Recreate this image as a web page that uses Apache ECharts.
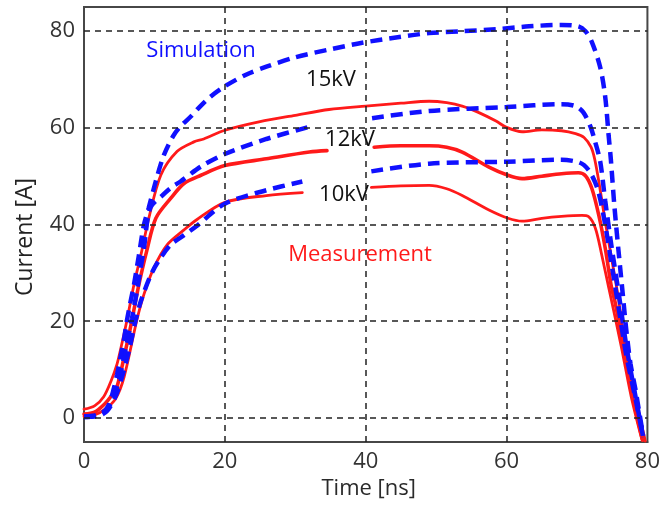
<!DOCTYPE html>
<html>
<head>
<meta charset="utf-8">
<script src="https://cdn.jsdelivr.net/npm/echarts@6/dist/echarts.min.js"></script>
<style>
html,body{margin:0;padding:0;background:#fff;}
#chart{width:663px;height:505px;}
</style>
</head>
<body>
<div id="chart"></div>
<script>
// ---- data (time in ns, current in A); null = gap in the curve ----
const xTicks = [0, 20, 40, 60, 80];
const yTicks = [0, 20, 40, 60, 80];
const xGrid = [20, 40, 60];
const yGrid = [0, 20, 40, 60, 80];

const meas15Time = [0, 1.5, 2.8, 3.8, 4.7, 5.4, 6.1, 7.1, 8.2, 9.2, 10.9, 13.2, 15.6, 17, 20, 25, 30, 34.8, 40, 45, 49, 51.5, 53.7, 56, 58.5, 60, 62.2, 65, 67.8, 69.8, 71, 72, 72.5, 73.1, 74, 74.9, 75.8, 76.9, 78.3, 79.7];
const meas15Value = [1.8, 2.5, 4.4, 7.5, 11.2, 15.5, 20.2, 27.6, 34.5, 41.3, 50.2, 55.1, 57.1, 57.7, 59.5, 61.3, 62.6, 63.8, 64.5, 65.1, 65.5, 65.2, 64.5, 63.2, 61.4, 60.1, 59.2, 59.6, 59.4, 58.8, 58, 56, 53.6, 48.9, 40.7, 33.1, 25.5, 14.7, 4.4, -4.8];

const meas12Time = [0, 1.5, 3, 4, 4.7, 6.1, 6.8, 7.8, 8.9, 10.2, 12.3, 14.2, 16.6, 20, 25.9, 32, 34.5, null, 41.2, 45, 49, 51.5, 53.7, 57.5, 60.2, 62.2, 65, 67.8, 70.2, 71.2, 72.1, 73.1, 74, 74.9, 75.4, 76.5, 77.8, 79.3];
const meas12Value = [0.8, 1.2, 3, 4.8, 6.5, 15.3, 20.2, 27.6, 34.5, 41.3, 45.4, 48.5, 50.2, 52.2, 53.6, 55, 55.3, null, 56, 56.3, 56.3, 56, 55, 51.9, 50.2, 49.5, 50, 50.5, 50.7, 50.1, 47.5, 41.9, 35.2, 27, 24, 15.5, 5, -4.6];

const meas10Time = [0, 1.5, 3, 4.5, 5.7, 7.5, 8.5, 9.9, 11.8, 14.2, 16, 20, 25.9, 31, null, 40.8, 45, 49, 51.5, 53.7, 57.5, 60.2, 62.2, 65, 67.8, 70.7, 71.6, 72.6, 73.5, 74.5, 74.9, 76.3, 77.7, 79.2];
const meas10Value = [0.3, 0.6, 1.8, 4, 8.5, 20.2, 25.5, 31, 35.8, 38.9, 41, 44.6, 46, 46.6, null, 47.7, 48, 48.1, 47.4, 46, 43, 41.3, 40.7, 41.3, 41.7, 41.9, 41.7, 39.3, 33.8, 27, 24.3, 14.7, 4.4, -4.4];

const sim15Time = [0, 1.5, 2.8, 3.6, 4.2, 4.7, 5.2, 5.7, 6.1, 6.6, 7.1, 7.8, 8.5, 9.2, 10.2, 11.3, 12.7, 13.7, 15.2, 16.4, 18, 20, 23, 26, 30, 34.8, 39.5, 44.3, 49, 53.7, 58.5, 63.2, 67.8, 70.2, 71.2, 72.1, 73.3, 74, 74.5, 74.8, 75.3, 75.9, 76.5, 77, 77.6, 78.3, 78.7, 79.4];
const sim15Value = [0.3, 0.5, 1.2, 3, 5.9, 9, 12.7, 16.5, 20.2, 24, 27.6, 33.7, 39.9, 43.5, 49, 54.2, 58.4, 60.3, 62.4, 64.3, 66.5, 68.6, 71, 72.7, 74.6, 76.2, 77.6, 78.7, 79.6, 80, 80.4, 81, 81.3, 81, 80, 77.8, 72.5, 66.5, 58.3, 53.6, 44, 34.5, 25.6, 18.2, 11.2, 5.9, 2.4, -3.7];

const sim12Time = [0, 1.5, 3, 4, 5, 6, 6.8, 7.6, 8.5, 9.4, 11.1, 12.5, 13.7, 16.6, 20, 25.9, 32, null, 40.9, 49, 60, 67.8, 69.8, 70.9, 71.9, 72.6, 73.3, 74, 74.9, 75.9, 77, 78.3, 79.4];
const sim12Value = [0.2, 0.4, 1.5, 3.5, 8, 15, 20.5, 27, 35, 43.4, 46, 47.8, 48.9, 52, 54.6, 57.7, 60.2, null, 62, 63.5, 64.3, 64.9, 64.5, 63.2, 60.3, 57, 53, 45, 35.5, 26, 15, 4.5, -4];

const sim10Time = [0, 2, 3.3, 4.5, 5.5, 6.4, 7.3, 8.1, 9.5, 10.6, 12.3, 14.2, 16, 20, 25.9, 31, null, 40.8, 49, 60.2, 67.8, 70, 71, 72, 73, 74, 75, 76, 77, 78.3, 79.4];
const sim10Value = [0.2, 0.4, 1.5, 4.5, 9, 14, 20, 24.3, 29.6, 32.5, 35.8, 37.8, 39.7, 44.3, 47.1, 48.9, null, 51, 52.6, 53, 53.4, 53, 52.3, 50.5, 47, 40, 31, 22, 13, 4, -4];

const labelTexts = { sim: 'Simulation', meas: 'Measurement', v15: '15kV', v12: '12kV', v10: '10kV', xName: 'Time [ns]', yName: 'Current [A]' };

// ---- build ----
function pairs(ts, vs) {
  return ts.map((t, i) => (t === null || vs[i] === null) ? ['-', '-'] : [t, vs[i]]);
}
const RED = '#ff1a1a';
const BLUE = '#1010ff';
const FONT = '"Open Sans", "DejaVu Sans", sans-serif';

function measSeries(name, ts, vs, w) {
  return {
    name, type: 'line', data: pairs(ts, vs), showSymbol: false, symbol: 'none',
    smooth: 0.3, connectNulls: false, z: 3,
    lineStyle: { color: RED, width: w, cap: 'round', join: 'round' }
  };
}
function simSeries(name, ts, vs) {
  return {
    name, type: 'line', data: pairs(ts, vs), showSymbol: false, symbol: 'none',
    smooth: 0.3, connectNulls: false, z: 4,
    lineStyle: { color: BLUE, width: 4.5, type: [12, 7] }
  };
}

const chart = echarts.init(document.getElementById('chart'), null, { renderer: 'canvas' });
const option = {
  animation: false,
  backgroundColor: '#ffffff',
  textStyle: { fontFamily: FONT },
  grid: { left: 84, right: 14, top: 7, bottom: 59, show: true, borderColor: '#474747', borderWidth: 2, backgroundColor: 'transparent' },
  xAxis: {
    type: 'value', min: 0, max: 80, interval: 20,
    name: labelTexts.xName, nameLocation: 'middle', nameGap: 34,
    nameTextStyle: { fontSize: 22, color: '#2a2a2a', fontFamily: FONT, padding: [0, 0, 0, 6] },
    axisLine: { show: true, onZero: false, lineStyle: { color: '#474747', width: 2 } },
    axisTick: { show: false },
    splitLine: { show: false },
    axisLabel: { fontSize: 22, color: '#333', margin: 9, fontFamily: FONT,
      formatter: v => xTicks.includes(v) ? String(v) : '' }
  },
  yAxis: {
    type: 'value', min: -5, max: 85, interval: 5,
    axisLine: { show: true, onZero: false, lineStyle: { color: '#474747', width: 2 } },
    axisTick: { show: false },
    splitLine: { show: false },
    axisLabel: { fontSize: 22, color: '#333', margin: 9, fontFamily: FONT,
      formatter: v => yTicks.includes(v) ? String(v) : '' }
  },
  graphic: [
    // white label boxes that hide the grid behind the annotations
    { type: 'rect', z: 1, shape: { x: 130, y: 25, width: 113, height: 40 }, style: { fill: '#fff' } },
    { type: 'rect', z: 1, shape: { x: 292, y: 57, width: 80, height: 45 }, style: { fill: '#fff' } },
    { type: 'rect', z: 1, shape: { x: 312, y: 126, width: 54, height: 8 }, style: { fill: '#fff' } },
    { type: 'rect', z: 1, shape: { x: 280, y: 230, width: 160, height: 50 }, style: { fill: '#fff' } },
    { type: 'text', z: 10, x: 25, y: 237, rotation: Math.PI / 2, style: { text: labelTexts.yName, fill: '#222', font: '23px ' + FONT, textAlign: 'center', textVerticalAlign: 'middle' } },
    { type: 'text', z: 10, x: 201, y: 51, style: { text: labelTexts.sim, fill: BLUE, font: '22px ' + FONT, textAlign: 'center', textVerticalAlign: 'middle' } },
    { type: 'text', z: 10, x: 331, y: 80, style: { text: labelTexts.v15, fill: '#111', font: '22px ' + FONT, textAlign: 'center', textVerticalAlign: 'middle' } },
    { type: 'text', z: 10, x: 350, y: 140, style: { text: labelTexts.v12, fill: '#111', font: '22px ' + FONT, textAlign: 'center', textVerticalAlign: 'middle' } },
    { type: 'text', z: 10, x: 344, y: 195, style: { text: labelTexts.v10, fill: '#111', font: '22px ' + FONT, textAlign: 'center', textVerticalAlign: 'middle' } },
    { type: 'text', z: 10, x: 360, y: 255, style: { text: labelTexts.meas, fill: RED, font: '22px ' + FONT, textAlign: 'center', textVerticalAlign: 'middle' } }
  ],
  series: [
    {
      name: 'grid', type: 'line', data: [], z: 0, silent: true,
      markLine: {
        silent: true, symbol: ['none', 'none'], animation: false,
        label: { show: false },
        lineStyle: { color: '#222', width: 1.5, type: [6, 5] },
        emphasis: { disabled: true },
        data: yGrid.map(v => ({ yAxis: v })).concat(xGrid.map(v => ({ xAxis: v })))
      }
    },
    measSeries('Measurement 10kV', meas10Time, meas10Value, 2.8),
    measSeries('Measurement 12kV', meas12Time, meas12Value, 3.6),
    measSeries('Measurement 15kV', meas15Time, meas15Value, 2.8),
    simSeries('Simulation 10kV', sim10Time, sim10Value),
    simSeries('Simulation 12kV', sim12Time, sim12Value),
    simSeries('Simulation 15kV', sim15Time, sim15Value)
  ]
};
chart.setOption(option);
</script>
</body>
</html>
